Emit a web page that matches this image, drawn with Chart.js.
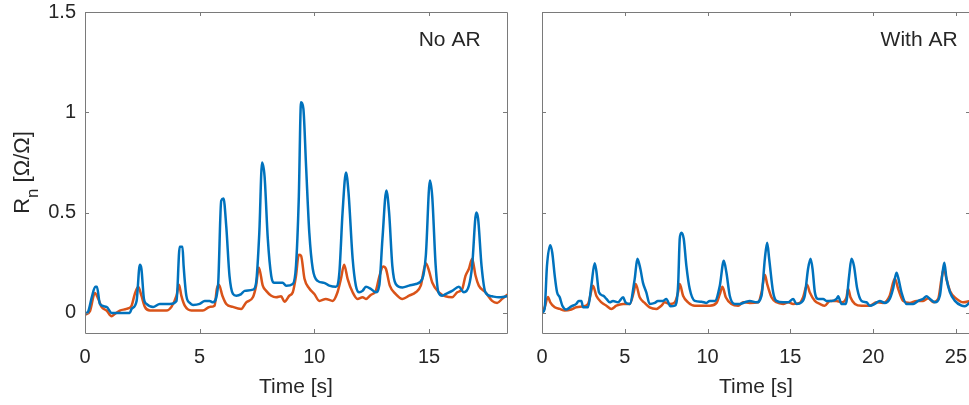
<!DOCTYPE html>
<html><head><meta charset="utf-8">
<script src="https://cdn.jsdelivr.net/npm/chart.js@4/dist/chart.umd.min.js"></script>
<style>
html,body{margin:0;padding:0;background:#fff;overflow:hidden;width:969px;height:405px;}
#c1{position:absolute;left:0;top:0;}
#c2{position:absolute;left:500px;top:0;}
</style></head><body>
<canvas id="c1" width="520" height="405"></canvas>
<canvas id="c2" width="472" height="405"></canvas>
<script>
// ---------- data ----------
const yTickValues = [0, 0.5, 1, 1.5];
const leftXTicks = [0, 5, 10, 15];
const rightXTicks = [0, 5, 10, 15, 20, 25];
const panelLabels = ['No AR', 'With AR'];
const seriesColors = ['#0072BD', '#D95319'];

const leftBlueT = [0,0.15,0.3,0.45,0.52,0.65,0.94,1.16,1.4,1.95,2.03,2.25,2.39,2.46,2.57,2.68,2.97,3.26,3.7,3.99,4.13,4.25,4.3,4.42,4.57,4.71,5.0,5.22,5.43,5.58,5.8,5.94,6.04,6.16,6.3,6.45,6.6,6.81,6.96,7.32,7.46,7.6,7.72,7.83,7.97,8.12,8.26,8.62,8.77,9.06,9.2,9.32,9.42,9.52,9.64,9.78,9.93,10.14,10.43,10.65,10.94,11.09,11.23,11.38,11.49,11.67,11.81,11.96,12.1,12.25,12.46,12.68,12.83,12.97,13.14,13.26,13.4,13.55,13.84,14.13,14.42,14.71,14.86,15.04,15.14,15.29,15.41,15.58,15.72,16.01,16.3,16.52,16.74,16.88,17.06,17.14,17.29,17.46,17.75,18.04,18.4];
const leftBlueY = [-0.005,0.01,0.08,0.13,0.13,0.045,0.03,0.0,0.0,0.0,0.02,0.06,0.24,0.22,0.07,0.045,0.03,0.045,0.045,0.06,0.33,0.33,0.235,0.085,0.05,0.04,0.045,0.06,0.06,0.053,0.135,0.56,0.57,0.43,0.185,0.095,0.086,0.094,0.11,0.116,0.15,0.4,0.75,0.68,0.37,0.185,0.15,0.15,0.135,0.144,0.235,0.566,1.05,1.02,0.73,0.4,0.22,0.16,0.15,0.136,0.13,0.2,0.5,0.70,0.6,0.27,0.136,0.103,0.11,0.13,0.12,0.103,0.136,0.37,0.61,0.5,0.235,0.144,0.127,0.136,0.144,0.17,0.285,0.66,0.58,0.235,0.103,0.086,0.094,0.11,0.13,0.103,0.136,0.235,0.50,0.47,0.235,0.103,0.083,0.078,0.083];

const leftOrangeT = [0,0.22,0.43,0.58,0.72,0.94,1.16,1.3,1.52,1.81,2.03,2.17,2.32,2.46,2.61,2.83,3.55,3.77,3.99,4.1,4.2,4.35,4.64,5.14,5.43,5.65,5.75,5.84,5.99,6.16,6.45,6.81,7.03,7.32,7.46,7.58,7.75,7.9,8.12,8.33,8.55,8.7,8.91,9.06,9.2,9.32,9.42,9.57,9.78,10.0,10.22,10.5,10.8,11.01,11.16,11.3,11.45,11.67,11.88,12.1,12.25,12.46,12.68,12.83,13.0,13.12,13.29,13.55,13.84,14.13,14.42,14.64,14.86,15.0,15.14,15.43,15.72,16.01,16.23,16.45,16.59,16.74,16.88,17.03,17.17,17.46,17.75,17.97,18.19,18.4];
const leftOrangeY = [-0.01,0.01,0.10,0.07,0.03,0.012,-0.017,-0.005,0.012,0.02,0.036,0.094,0.13,0.086,0.03,0.012,0.012,0.03,0.086,0.14,0.086,0.036,0.012,0.012,0.03,0.036,0.12,0.14,0.086,0.045,0.03,0.02,0.053,0.078,0.136,0.227,0.136,0.11,0.086,0.078,0.083,0.056,0.086,0.103,0.185,0.29,0.285,0.17,0.122,0.094,0.06,0.07,0.06,0.103,0.17,0.24,0.17,0.103,0.07,0.078,0.07,0.09,0.11,0.18,0.232,0.22,0.136,0.094,0.07,0.086,0.103,0.136,0.248,0.21,0.152,0.103,0.083,0.078,0.103,0.12,0.185,0.22,0.27,0.185,0.136,0.103,0.06,0.05,0.07,0.09];

const rightBlueT = [0,0.16,0.3,0.5,0.62,0.77,0.91,1.07,1.23,1.47,1.77,2.07,2.22,2.38,2.48,2.78,2.98,3.18,3.28,3.44,3.69,3.89,4.09,4.29,4.59,4.9,5.04,5.3,5.6,5.76,5.94,6.1,6.3,6.5,6.81,7.0,7.31,7.51,7.76,8.02,8.22,8.32,8.42,8.56,8.72,8.92,9.23,9.63,9.93,10.13,10.44,10.74,10.98,11.14,11.34,11.64,11.95,12.25,12.55,12.95,13.26,13.46,13.6,13.72,13.96,14.16,14.57,14.87,15.17,15.37,15.67,15.87,16.07,16.22,16.34,16.48,16.68,16.98,17.18,17.49,17.79,17.89,18.09,18.35,18.55,18.69,18.84,19.04,19.3,19.6,19.8,20.1,20.4,20.7,21.0,21.2,21.41,21.51,21.71,22.02,22.42,22.72,23.02,23.22,23.43,23.73,24.03,24.19,24.3,24.43,24.64,24.94,25.34,25.54,25.85];
const rightBlueY = [0.0,0.02,0.235,0.338,0.3,0.185,0.103,0.078,0.036,0.017,0.033,0.045,0.06,0.06,0.028,0.028,0.136,0.248,0.21,0.103,0.086,0.07,0.053,0.06,0.053,0.078,0.053,0.045,0.17,0.27,0.22,0.15,0.103,0.045,0.05,0.06,0.06,0.07,0.033,0.036,0.136,0.37,0.40,0.37,0.235,0.12,0.06,0.056,0.05,0.06,0.06,0.136,0.26,0.2,0.086,0.045,0.045,0.053,0.06,0.053,0.086,0.27,0.35,0.27,0.103,0.06,0.053,0.053,0.07,0.045,0.053,0.086,0.22,0.27,0.22,0.103,0.07,0.07,0.06,0.06,0.07,0.083,0.045,0.045,0.185,0.27,0.235,0.12,0.06,0.053,0.036,0.045,0.06,0.05,0.07,0.12,0.2,0.177,0.103,0.045,0.045,0.06,0.07,0.083,0.07,0.053,0.086,0.2,0.25,0.17,0.103,0.06,0.036,0.033,0.053];

const rightOrangeT = [0,0.16,0.36,0.5,0.77,1.07,1.37,1.77,2.07,2.48,2.78,3.04,3.08,3.28,3.59,3.89,4.19,4.49,4.9,5.3,5.54,5.66,5.9,6.2,6.5,6.91,7.21,7.41,7.72,8.02,8.22,8.32,8.52,8.82,9.23,9.73,10.13,10.54,10.74,10.9,11.1,11.44,11.85,12.15,12.55,13.06,13.26,13.46,13.6,13.86,14.16,14.57,14.87,15.17,15.57,15.77,16.01,16.17,16.48,16.78,17.08,17.39,17.79,18.09,18.39,18.49,18.63,18.9,19.3,19.8,20.2,20.6,21.0,21.31,21.51,21.81,22.21,22.62,23.02,23.33,23.63,23.93,24.13,24.27,24.43,24.64,25.04,25.44,25.85];
const rightOrangeY = [0.003,0.028,0.08,0.053,0.028,0.02,0.012,0.017,0.028,0.033,0.045,0.13,0.136,0.086,0.053,0.036,0.02,0.036,0.045,0.045,0.103,0.144,0.078,0.05,0.028,0.02,0.036,0.053,0.045,0.053,0.103,0.144,0.086,0.053,0.036,0.036,0.036,0.05,0.094,0.13,0.078,0.045,0.036,0.053,0.05,0.053,0.103,0.19,0.144,0.078,0.053,0.045,0.053,0.045,0.05,0.078,0.14,0.103,0.06,0.045,0.036,0.06,0.06,0.053,0.078,0.12,0.078,0.045,0.036,0.036,0.053,0.05,0.086,0.172,0.12,0.06,0.05,0.06,0.06,0.073,0.053,0.07,0.17,0.222,0.17,0.11,0.07,0.053,0.06];

// ---------- rendering ----------
const FONT = '"Liberation Sans", Arial, sans-serif';
const TEXT = '#262626';
const AXIS = '#7a7a7a';

function pts(t, y) { return t.map((v, i) => ({ x: v, y: y[i] })); }
function zeroPad(s) { s.paddingTop = 0; s.paddingBottom = 0; s.paddingLeft = 0; s.paddingRight = 0; }

const framePlugin = {
  id: 'frame',
  afterDatasetsDraw(chart, args, opts) {
    const { ctx, chartArea: a, scales } = chart;
    ctx.save();
    ctx.strokeStyle = AXIS;
    ctx.lineWidth = 1;
    ctx.beginPath();
    ctx.rect(Math.round(a.left) + 0.5, Math.round(a.top) + 0.5, Math.round(a.right - a.left), Math.round(a.bottom - a.top));
    ctx.stroke();
    const L = 4;
    ctx.beginPath();
    scales.x.ticks.forEach(t => {
      const px = Math.round(scales.x.getPixelForValue(t.value)) + 0.5;
      ctx.moveTo(px, a.bottom); ctx.lineTo(px, a.bottom - L);
      ctx.moveTo(px, a.top); ctx.lineTo(px, a.top + L);
    });
    scales.y.ticks.forEach(t => {
      const py = Math.round(scales.y.getPixelForValue(t.value)) + 0.5;
      ctx.moveTo(a.left, py); ctx.lineTo(a.left + L, py);
      ctx.moveTo(a.right, py); ctx.lineTo(a.right - L, py);
    });
    ctx.stroke();
    // panel label
    ctx.fillStyle = TEXT;
    ctx.font = '21px ' + FONT;
    ctx.textAlign = 'left';
    ctx.textBaseline = 'middle';
    ctx.fillText(opts.label, scales.x.getPixelForValue(opts.labelX), scales.y.getPixelForValue(opts.labelY));
    // y title with subscript
    if (opts.yTitle) {
      const cy = (a.top + a.bottom) / 2;
      ctx.translate(29, cy);
      ctx.rotate(-Math.PI / 2);
      const big = '22px ' + FONT, small = '17px ' + FONT;
      ctx.font = big; const wR = ctx.measureText('R').width;
      ctx.font = small; const wn = ctx.measureText('n').width;
      ctx.font = big; const wRest = ctx.measureText(' [Ω/Ω]').width;
      const total = wR + wn + wRest;
      let x = -total / 2;
      ctx.textBaseline = 'alphabetic';
      ctx.font = big; ctx.fillText('R', x, 0); x += wR;
      ctx.font = small; ctx.fillText('n', x, 9); x += wn;
      ctx.font = big; ctx.fillText(' [Ω/Ω]', x, 0);
    }
    ctx.restore();
  }
};

function makeChart(id, blueT, blueY, orT, orY, xMax, xTicks, opts) {
  return new Chart(document.getElementById(id), {
    type: 'line',
    data: {
      datasets: [
        { data: pts(blueT, blueY), borderColor: seriesColors[0], borderWidth: 2.5 },
        { data: pts(orT, orY), borderColor: seriesColors[1], borderWidth: 2.5 }
      ]
    },
    options: {
      responsive: false,
      animation: false,
      events: [],
      elements: { point: { radius: 0 }, line: { cubicInterpolationMode: 'monotone', borderJoinStyle: 'round', borderCapStyle: 'round' } },
      layout: { padding: { top: 12, right: opts.padRight, left: 0, bottom: 0 } },
      plugins: {
        legend: { display: false },
        tooltip: { enabled: false },
        frame: { label: opts.label, labelX: opts.labelX, labelY: 1.36, yTitle: opts.yTitle }
      },
      scales: {
        x: {
          type: 'linear', min: 0, max: xMax,
          afterBuildTicks: s => { s.ticks = xTicks.map(v => ({ value: v })); },
          afterFit: s => { s.height = 72; zeroPad(s); },
          grid: { display: false, drawTicks: false }, border: { display: false },
          ticks: { font: { family: FONT, size: 20 }, color: TEXT, padding: 12, maxRotation: 0, autoSkip: false, callback: v => String(v) },
          title: { display: true, text: 'Time [s]', font: { family: FONT, size: 21 }, color: TEXT, padding: { top: 0, bottom: 5 } }
        },
        y: {
          type: 'linear', min: -0.1, max: 1.5,
          afterBuildTicks: s => { s.ticks = yTickValues.map(v => ({ value: v })); },
          afterFit: s => { s.width = opts.yWidth; zeroPad(s); },
          grid: { display: false, drawTicks: false }, border: { display: false },
          ticks: { display: opts.showY, font: { family: FONT, size: 20 }, color: TEXT, padding: 9, callback: v => String(v) }
        }
      }
    },
    plugins: [framePlugin]
  });
}

makeChart('c1', leftBlueT, leftBlueY, leftOrangeT, leftOrangeY, 18.4, leftXTicks,
  { showY: true, yWidth: 85, padRight: 13, label: panelLabels[0], labelX: 14.55, yTitle: true });
makeChart('c2', rightBlueT, rightBlueY, rightOrangeT, rightOrangeY, 25.85, rightXTicks,
  { showY: false, yWidth: 42, padRight: 2, label: panelLabels[1], labelX: 20.45, yTitle: false });
</script>
</body></html>
